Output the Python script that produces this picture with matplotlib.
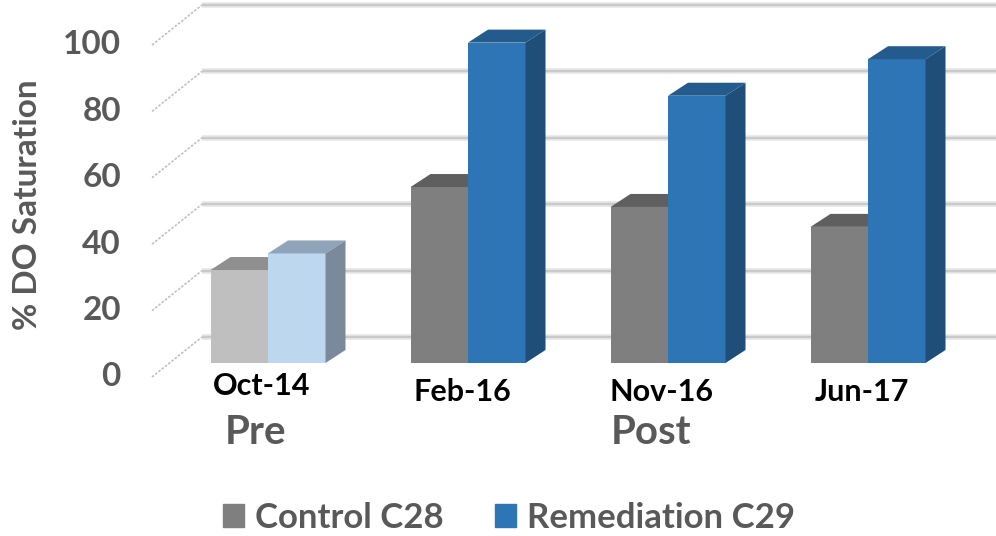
import numpy as np
import matplotlib
matplotlib.use('Agg')
import matplotlib.pyplot as plt
from matplotlib.patches import Polygon, Patch

plt.rcParams['font.family'] = ['Lato', 'DejaVu Sans']

# data
categories = ['Oct-14', 'Feb-16', 'Nov-16', 'Jun-17']
control = [28, 53, 47, 41]
remediation = [33, 96.5, 80.5, 91.5]
yticks = [0, 20, 40, 60, 80, 100]
series_names = ['Control C28', 'Remediation C29']

# colours: (front, top, side) ; first category is "pre" -> lighter
ctrl_pre = ('#bfbfbf', '#8f8f8f', '#808080')
ctrl_post = ('#7f7f7f', '#5f5f5f', '#4c4c4c')
rem_pre = ('#bdd7ee', '#8fa4b8', '#7a8a9b')
rem_post = ('#2e75b6', '#245b8d', '#1f4e79')
txt_grey = '#595959'

# layout: 200 px per category, 3.32 px per % unit
PXX, PXY = 200.0, 3.32
w = 57.5 / PXX                       # bar width
bdx, bdy = 20 / PXX, 13 / PXY        # bar depth
wall_dy = 26 / PXY                   # back wall offset behind bar fronts
lw_x0, lw_dy = -116 / PXX, -14 / PXY    # front edge of left wall

fig = plt.figure(figsize=(9.96, 5.36), dpi=100)
ax = fig.add_axes([0, 0, 1, 1])
ax.set_xlim(-268 / PXX, 728 / PXX)
ax.set_ylim(-173 / PXY, 363 / PXY)
ax.axis('off')

# back wall gridlines + left wall
xr = ax.get_xlim()[1]
for t in yticks:
    yb = t + wall_dy
    ax.plot([lw_x0 + 50 / PXX, xr], [yb, yb], color='#e6e6e6', lw=4, zorder=1,
            solid_capstyle='butt')
    ax.plot([lw_x0 + 50 / PXX, xr], [yb, yb], color='#c9c9c9', lw=1.6, zorder=1.1,
            solid_capstyle='butt')
    ax.plot([lw_x0, lw_x0 + 50 / PXX], [t + lw_dy, yb], color='#c0c0c0', lw=1.2,
            ls=(0, (1.5, 1)), zorder=1)
    ax.text(lw_x0 - 31 / PXX, t + lw_dy, str(t), ha='right', va='center',
            fontsize=24, fontweight='bold', color=txt_grey)


def bar3d(x0, v, cols):
    front, top, side = cols
    ax.bar(x0, v, width=w, align='edge', color=front, zorder=3)
    ax.add_patch(Polygon([(x0, v), (x0 + w, v), (x0 + w + bdx, v + bdy),
                          (x0 + bdx, v + bdy)], closed=True, fc=top, ec='none', zorder=3))
    ax.add_patch(Polygon([(x0 + w, 0), (x0 + w + bdx, bdy), (x0 + w + bdx, v + bdy),
                          (x0 + w, v)], closed=True, fc=side, ec='none', zorder=3))


for i, cat in enumerate(categories):
    cc = ctrl_pre if i == 0 else ctrl_post
    rc = rem_pre if i == 0 else rem_post
    bar3d(i - w, control[i], cc)
    bar3d(i, remediation[i], rc)
    ax.text(i - 0.03, -7.0 if i == 0 else -8.6, cat, ha='center', va='center',
            fontsize=22, fontweight='bold', color='black')

ax.text(-13 / PXX, -20.8, 'Pre', ha='center', va='center', fontsize=29,
        fontweight='bold', color=txt_grey)
ax.text(383 / PXX, -20.8, 'Post', ha='center', va='center', fontsize=29,
        fontweight='bold', color=txt_grey)

ax.text(-240 / PXX, 47.6, '% DO Saturation', rotation=90, ha='center', va='center',
        fontsize=24, fontweight='bold', color=txt_grey)

handles = [Patch(color=ctrl_post[0]), Patch(color=rem_post[0])]
leg = fig.legend(handles, series_names, loc='center', bbox_to_anchor=(0.511, 0.034),
                 ncol=2, frameon=False, prop={'size': 25, 'weight': 'bold'},
                 handlelength=0.6, handleheight=0.66, handletextpad=0.3,
                 columnspacing=1.5)
for t in leg.get_texts():
    t.set_color(txt_grey)

fig.savefig('out.png', dpi=100)
